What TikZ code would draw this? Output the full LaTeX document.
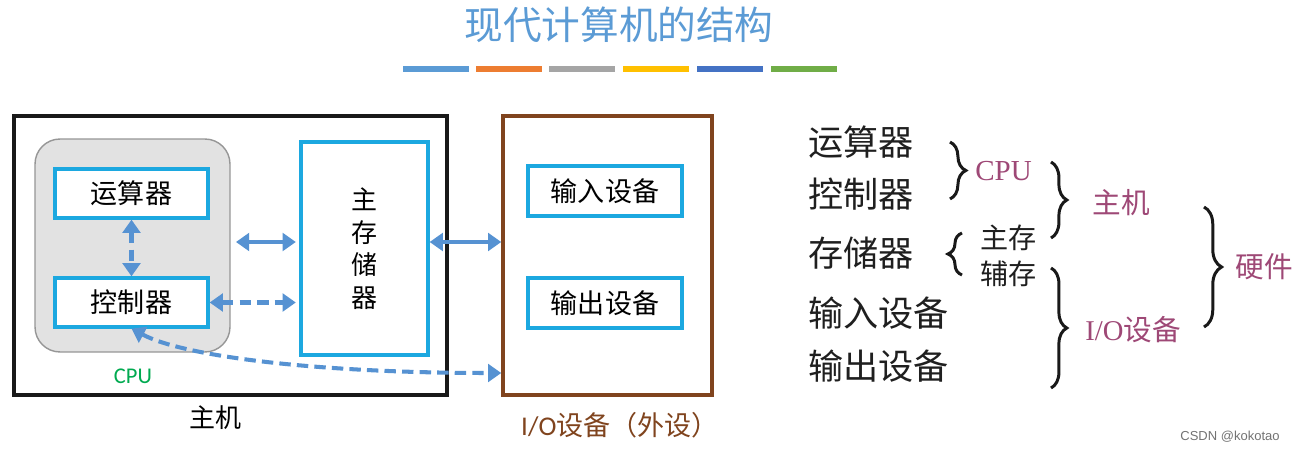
\documentclass[tikz,border=0pt]{standalone}
\usepackage{fontspec}
\setmainfont{Carlito}
\newfontfamily\cjk{Noto Sans CJK SC}
\newfontfamily\serifrm{Liberation Serif}
\newfontfamily\arialf{Liberation Sans}
\usetikzlibrary{arrows.meta,decorations.pathreplacing,calc}
\definecolor{titlec}{RGB}{91,155,213}
\definecolor{arrowc}{RGB}{86,146,210}
\definecolor{cyanb}{RGB}{28,168,224}
\definecolor{brownb}{RGB}{128,68,30}
\definecolor{cpug}{RGB}{0,170,80}
\definecolor{purp}{RGB}{158,72,118}
\definecolor{cpufill}{RGB}{226,226,226}
\definecolor{cpuedge}{RGB}{150,150,150}
\definecolor{bar1}{RGB}{91,155,213}
\definecolor{bar2}{RGB}{237,125,49}
\definecolor{bar3}{RGB}{165,165,165}
\definecolor{bar4}{RGB}{255,192,0}
\definecolor{bar5}{RGB}{68,114,196}
\definecolor{bar6}{RGB}{112,173,71}
\newcommand{\myfs}[1]{\fontsize{#1}{#1}\selectfont}
\begin{document}
\begin{tikzpicture}[x=0.02cm,y=-0.02cm,
  blu/.style={draw=cyanb, line width=1.9pt, fill=white, minimum width=3.06cm, minimum height=0.98cm, inner sep=0pt, font=\cjk\myfs{15.4pt}},
  arr/.style={draw=arrowc, line width=2.3pt, {Triangle[length=7.5pt,width=10pt]}-{Triangle[length=7.5pt,width=10pt]}},
  dsh/.style={arr, dash pattern=on 6.5pt off 3.5pt},
  brc/.style={decorate, decoration={brace, amplitude=9pt}, line width=1.7pt, draw=black!90},
  rtxt/.style={anchor=west, inner sep=0pt, font=\cjk\myfs{20pt}, text=black!88},
  ptxt/.style={anchor=west, inner sep=0pt, font=\cjk\myfs{16.3pt}, text=purp},
]
\useasboundingbox (0,0) rectangle (1294,452);
\fill[white] (0,0) rectangle (1294,452);
% title
\node[font=\cjk\myfs{22pt}, text=titlec] (title) at (619,25) {现代计算机的结构};
\fill[bar1] (403,66) rectangle (469,72);
\fill[bar2] (476,66) rectangle (542,72);
\fill[bar3] (549,66) rectangle (615,72);
\fill[bar4] (623,66) rectangle (689,72);
\fill[bar5] (697,66) rectangle (763,72);
\fill[bar6] (771,66) rectangle (837,72);
% host box
\node[draw=black!90, line width=2.1pt, minimum width=8.66cm, minimum height=5.58cm, inner sep=0pt] (host) at (230.5,255.5) {};
\node[draw=cpuedge, fill=cpufill, line width=0.8pt, rounded corners=0.5cm, minimum width=3.9cm, minimum height=4.26cm, inner sep=0pt] (cpu) at (132.5,245.5) {};
\node[blu] (alu) at (131.5,193.5) {运算器};
\node[blu] (cu) at (131.5,302.5) {控制器};
\node[draw=cyanb, line width=1.9pt, minimum width=2.54cm, minimum height=4.26cm, inner sep=0pt, align=center, font=\cjk\fontsize{14.8pt}{18.5pt}\selectfont] (mem) at (364.5,248.5) {主\\存\\储\\器};
\node[font=\myfs{12.8pt}, text=cpug] (cpulbl) at (133,376) {CPU};
\node[font=\cjk\myfs{14.8pt}] (hostlbl) at (215,418) {主机};
% io box
\node[draw=brownb, line width=2pt, minimum width=4.18cm, minimum height=5.58cm, inner sep=0pt] (io) at (607.5,255.5) {};
\node[blu, minimum width=3.08cm, minimum height=1.0cm] (in) at (605,191) {输入设备};
\node[blu, minimum width=3.08cm, minimum height=1.0cm] (out) at (605,303) {输出设备};
\node[font=\myfs{15.4pt}, text=brownb] (iolbl) at (620,425) {I/O{\cjk 设备（外设）}};
% arrows
\draw[arr, shorten <=3pt, shorten >=2pt] (cpu.east |- 0,242) -- (mem.west |- 0,242);
\draw[arr] (mem.east |- 0,242) -- (io.west |- 0,242);
\draw[dsh] (alu.south) -- (cu.north);
\draw[dsh, shorten >=2pt] (cu.east) -- (mem.west |- cu.east);
\draw[dsh] (cu.south) .. controls (185,357) and (320,373) .. (io.west |- 0,373);
% right side
\node[rtxt] (r1) at (808,142) {运算器};
\node[rtxt] (r2) at (808,194) {控制器};
\node[rtxt] (r3) at (808,253) {存储器};
\node[rtxt] (r4) at (808,313) {输入设备};
\node[rtxt] (r5) at (808,366) {输出设备};
\draw[brc] (950,142) -- (950,199);
\node[anchor=west, inner sep=0pt, font=\serifrm\myfs{16.5pt}, text=purp] (rcpu) at (975,171) {CPU};
\draw[brc] (1051,162) -- (1051,238);
\node[ptxt] (rhost) at (1092,203) {主机};
\draw[brc, decoration={brace, amplitude=8pt, mirror}] (962,233) -- (962,275);
\node[anchor=west, inner sep=0pt, font=\cjk\myfs{16pt}, text=black!88] (rmain) at (980,238) {主存};
\node[anchor=west, inner sep=0pt, font=\cjk\myfs{16pt}, text=black!88] (raux) at (980,274) {辅存};
\draw[brc] (1051,268) -- (1051,388);
\node[anchor=west, inner sep=0pt, font=\myfs{16.3pt}, text=purp] (rio) at (1085,330) {{\serifrm I/O}{\cjk 设备}};
\draw[brc, decoration={brace, amplitude=10pt}] (1204,207) -- (1204,327);
\node[ptxt] (rhw) at (1235,267) {硬件};
\node[font=\arialf\myfs{7.4pt}, text=black!55] (csdn) at (1230,437) {CSDN @kokotao};
\end{tikzpicture}
\end{document}
